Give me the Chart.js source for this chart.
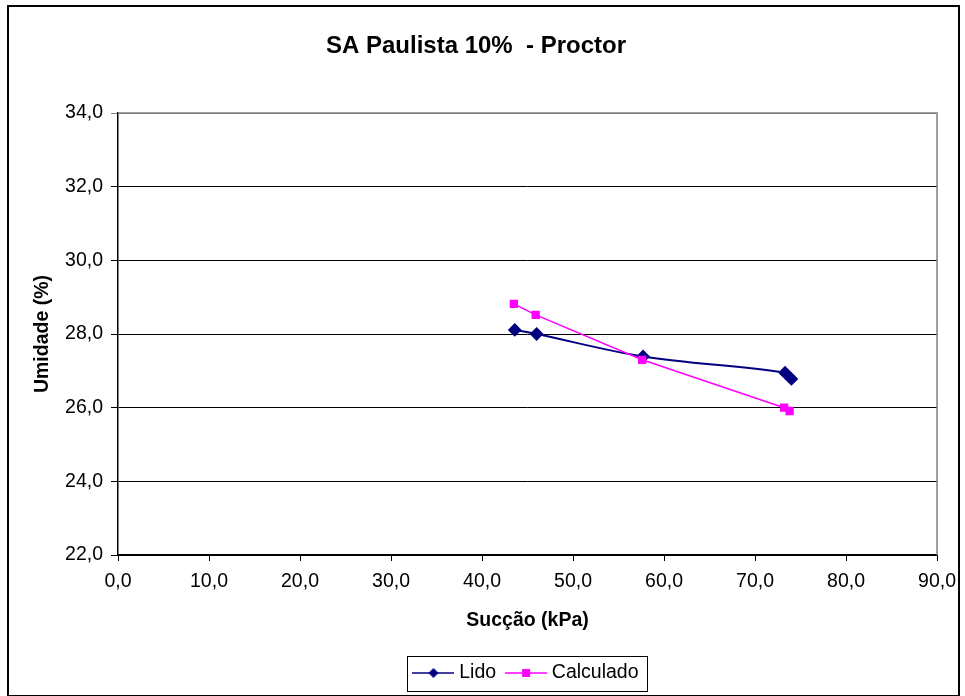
<!DOCTYPE html>
<html>
<head>
<meta charset="utf-8">
<script src="https://cdn.jsdelivr.net/npm/chart.js@4.4.0/dist/chart.umd.min.js"></script>
<style>
  html, body { margin: 0; padding: 0; background: #fff; }
  #wrap { width: 965px; height: 696px; }
</style>
</head>
<body>
<div id="wrap"><canvas id="chart1" width="965" height="696"></canvas></div>
<script>
const ctx1 = document.getElementById('chart1');

// dados
const lidoX = [43.6, 46.0, 57.7, 73.3, 74.0]
const lidoY = [28.11, 28.0, 27.39, 26.95, 26.78]
const calcX = [43.5, 45.9, 57.6, 73.2, 73.8]
const calcY = [28.82, 28.52, 27.30, 26.0, 25.91]
const seriesNames = ['Lido', 'Calculado']
const chartTitle = 'SA Paulista 10%  - Proctor'
const xTitle = 'Sucção (kPa)'
const yTitle = 'Umidade (%)'

const toPoints = (xs, ys) => xs.map((x, i) => ({ x: x, y: ys[i] }))

// icone da legenda: linha com marcador no meio
const legendIcon = (color, shape) => {
    const c = document.createElement('canvas')
    c.width = 42
    c.height = 12
    const g = c.getContext('2d')
    g.strokeStyle = color
    g.lineWidth = 1.5
    g.beginPath()
    g.moveTo(0, 6)
    g.lineTo(42, 6)
    g.stroke()
    g.fillStyle = color
    if (shape === 'diamond') {
        g.beginPath()
        g.moveTo(21, 1)
        g.lineTo(26, 6)
        g.lineTo(21, 11)
        g.lineTo(16, 6)
        g.closePath()
        g.fill()
    } else {
        g.fillRect(17, 2, 8, 8)
    }
    return c
}

const legendShift = 52

const frame = {
    id: 'frame',
    afterLayout(chart) {
        // empurra a legenda para a direita, como no original
        chart.legend.left += legendShift
        chart.legend.right += legendShift
    },
    afterDraw(chart) {
        const g = chart.ctx
        const a = chart.chartArea
        g.save()
        // borda do plot (cinza, topo e direita)
        g.strokeStyle = '#808080'
        g.lineWidth = 1.5
        g.beginPath()
        g.moveTo(a.left, a.top)
        g.lineTo(a.right, a.top)
        g.lineTo(a.right, a.bottom)
        g.stroke()
        // borda da legenda
        const hb = chart.legend.legendHitBoxes
        if (hb && hb.length) {
            const first = hb[0]
            const last = hb[hb.length - 1]
            const cy = first.top + first.height / 2
            const x0 = Math.round(first.left - 10) + 0.5
            const x1 = Math.round(last.left + last.width + 8) + 0.5
            const y0 = Math.round(cy - 17) + 0.5
            const y1 = Math.round(cy + 18) + 0.5
            g.strokeStyle = '#000'
            g.lineWidth = 1
            g.strokeRect(x0, y0, x1 - x0, y1 - y0)
        }
        // borda externa
        g.strokeStyle = '#000'
        g.lineWidth = 2
        g.strokeRect(8, 6, 951, 690)
        g.restore()
    }
}

const font = 'Arial, "Liberation Sans", sans-serif'

new Chart(ctx1, {
    type: 'scatter',
    data: {
        datasets: [{
            label: seriesNames[0],
            data: toPoints(lidoX, lidoY),
            showLine: true,
            borderColor: '#000080',
            backgroundColor: '#000080',
            borderWidth: 2,
            pointStyle: 'rectRot',
            pointRadius: 5.5,
            pointHoverRadius: 5.5,
            tension: 0.35,
            order: 2
        }, {
            label: seriesNames[1],
            data: toPoints(calcX, calcY),
            showLine: true,
            borderColor: '#FF00FF',
            backgroundColor: '#FF00FF',
            borderWidth: 1.5,
            pointStyle: 'rect',
            pointRadius: 4.8,
            pointHoverRadius: 4.8,
            tension: 0,
            order: 1
        }]
    },
    options: {
        responsive: false,
        animation: false,
        layout: { padding: { left: 14, right: 27, top: 8, bottom: 3.25 } },
        plugins: {
            title: {
                display: true,
                text: chartTitle,
                color: '#000',
                font: { family: font, size: 24, weight: 'bold' },
                padding: { top: 24, bottom: 52.2 }
            },
            legend: {
                position: 'bottom',
                labels: {
                    color: '#000',
                    font: { family: font, size: 19.5 },
                    usePointStyle: true,
                    pointStyleWidth: 32,
                    padding: 14,
                    generateLabels: (chart) => chart.data.datasets.map((ds, i) => ({
                        text: ds.label,
                        pointStyle: legendIcon(ds.borderColor, i === 0 ? 'diamond' : 'square'),
                        fillStyle: ds.borderColor,
                        strokeStyle: ds.borderColor,
                        lineWidth: 0,
                        fontColor: '#000',
                        datasetIndex: i
                    }))
                }
            },
            tooltip: { enabled: false }
        },
        scales: {
            x: {
                type: 'linear',
                min: 0,
                max: 90,
                ticks: {
                    stepSize: 10,
                    color: '#000',
                    font: { family: font, size: 19.5 },
                    padding: 9,
                    maxRotation: 0,
                    callback: (v) => v.toFixed(1).replace('.', ',')
                },
                grid: { display: true, drawOnChartArea: false, drawTicks: true, tickLength: 6, color: '#000' },
                border: { color: '#000', width: 1.5 },
                title: {
                    display: true,
                    text: xTitle,
                    color: '#000',
                    font: { family: font, size: 19.5, weight: 'bold' },
                    padding: { top: 10, bottom: 17.25 }
                },
                afterFit: (scale) => { scale.height = 94.25 }
            },
            y: {
                type: 'linear',
                min: 22,
                max: 34,
                ticks: {
                    stepSize: 2,
                    color: '#000',
                    font: { family: font, size: 19.5 },
                    padding: 8,
                    callback: (v) => v.toFixed(1).replace('.', ',')
                },
                grid: {
                    color: (c) => (c.tick && c.tick.value === 34 ? '#808080' : '#000'),
                    lineWidth: 1,
                    tickLength: 7
                },
                border: { color: '#000', width: 1.5 },
                title: {
                    display: true,
                    text: yTitle,
                    color: '#000',
                    font: { family: font, size: 19.5, weight: 'bold' },
                    padding: { top: 16.7, bottom: 0 }
                },
                afterFit: (scale) => { scale.width = 104 }
            }
        }
    },
    plugins: [frame]
});
</script>
</body>
</html>
